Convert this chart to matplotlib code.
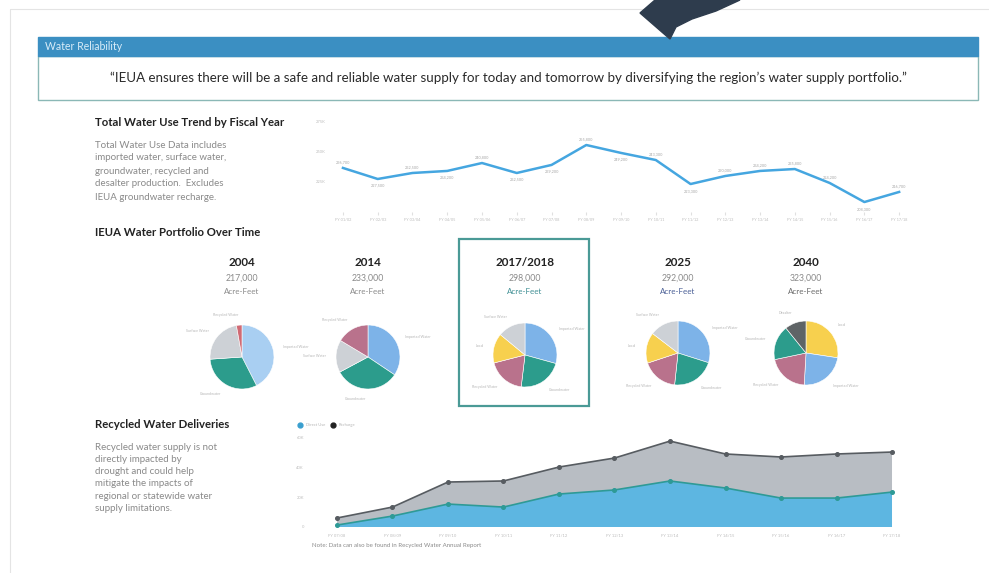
import numpy as np
import matplotlib.pyplot as plt
from matplotlib.patches import Rectangle, Polygon
from matplotlib.lines import Line2D

plt.rcParams['font.family'] = ['Lato', 'DejaVu Sans']

# total water use by fiscal year (acre-feet)
fiscal_years = ["FY 01/02", "FY 02/03", "FY 03/04", "FY 04/05", "FY 05/06", "FY 06/07",
                "FY 07/08", "FY 08/09", "FY 09/10", "FY 10/11", "FY 11/12", "FY 12/13",
                "FY 13/14", "FY 14/15", "FY 15/16", "FY 16/17", "FY 17/18"]
total_use = [236700, 227500, 232500, 234200, 240800, 232500, 239200, 255800, 249200,
             243300, 223300, 230000, 234200, 235800, 224200, 208300, 216700]

# water portfolio pies
portfolio_years = ["2004", "2014", "2017/2018", "2025", "2040"]
portfolio_totals = ["217,000", "233,000", "298,000", "292,000", "323,000"]
sources_2004 = ["Imported Water", "Groundwater", "Surface Water", "Recycled Water"]
shares_2004 = [42.5, 31.4, 23.3, 2.8]
sources_2014 = ["Imported Water", "Groundwater", "Surface Water", "Recycled Water"]
shares_2014 = [34.4, 32.8, 16.4, 16.4]
sources_2018 = ["Imported Water", "Groundwater", "Recycled Water", "Local", "Surface Water"]
shares_2018 = [29.3, 22.6, 19.1, 15.0, 14.0]
sources_2025 = ["Imported Water", "Groundwater", "Recycled Water", "Local", "Surface Water"]
shares_2025 = [29.9, 21.8, 18.2, 15.5, 14.6]
sources_2040 = ["Local", "Imported Water", "Recycled Water", "Groundwater", "Desalter"]
shares_2040 = [27.4, 23.5, 20.8, 17.5, 10.8]

# recycled water deliveries (acre-feet)
rw_years = ["FY 07/08", "FY 08/09", "FY 09/10", "FY 10/11", "FY 11/12", "FY 12/13",
            "FY 13/14", "FY 14/15", "FY 15/16", "FY 16/17", "FY 17/18"]
direct_use = [1300, 7300, 15300, 13300, 22000, 24700, 30700, 26000, 19300, 19300, 23300]
recharge = [4700, 6000, 14700, 17400, 18000, 21300, 26600, 22700, 27400, 29400, 26700]

W, H = 989, 573
fig = plt.figure(figsize=(W / 100, H / 100), dpi=100)


def px_axes(x0, y0, x1, y1):
    return fig.add_axes([x0 / W, 1 - y1 / H, (x1 - x0) / W, (y1 - y0) / H])


# page layer in pixel units
bg = fig.add_axes([0, 0, 1, 1])
bg.set_xlim(0, W)
bg.set_ylim(H, 0)
bg.axis('off')
bg.plot([10, 10, 989], [573, 9, 9], color='#e4e4e4', lw=0.8)
bg.add_patch(Polygon([(640, 13), (655, 0), (740, 0), (716, 11), (692, 19), (676, 27),
                      (670, 39), (663, 33)], closed=True, color='#2e3c4d', zorder=3))
bg.add_patch(Rectangle((38, 37), 940, 19, color='#3b8fc2', zorder=2))
bg.add_patch(Rectangle((38, 56), 940, 44, facecolor='white', edgecolor='#8bb8b6', lw=1))
bg.text(45, 47, "Water Reliability", color='#d8ecf8', fontsize=7.6, va='center')
bg.text(508, 78, "\u201cIEUA ensures there will be a safe and reliable water supply for today and "
        "tomorrow by diversifying the region\u2019s water supply portfolio.\u201d",
        fontsize=9.6, color='#2a2a2a', ha='center', va='center')

title_kw = dict(fontsize=8.2, fontweight='bold', color='#222222', va='center')
desc_kw = dict(fontsize=7.0, color='#8a8a8a', va='center')

bg.text(95, 123, "Total Water Use Trend by Fiscal Year", **title_kw)
desc1 = ["Total Water Use Data includes", "imported water, surface water,",
         "groundwater, recycled and", "desalter production.  Excludes",
         "IEUA groundwater recharge."]
for i, line in enumerate(desc1):
    bg.text(95, 145 + i * 13, line, **desc_kw)

bg.text(95, 233, "IEUA Water Portfolio Over Time", **title_kw)

bg.text(95, 424, "Recycled Water Deliveries", **title_kw)
desc2 = ["Recycled water supply is not", "directly impacted by",
         "drought and could help", "mitigate the impacts of",
         "regional or statewide water", "supply limitations."]
for i, line in enumerate(desc2):
    bg.text(95, 447 + i * 12.3, line, **desc_kw)

bg.text(312, 545, "Note: Data can also be found in Recycled Water Annual Report",
        fontsize=4.4, color='#8a8a8a', va='center')

# total water use line
ax1 = px_axes(328, 118, 912, 212)
ax1.set_facecolor('none')
xi = np.arange(len(total_use))
ax1.plot(xi, total_use, color='#45a6e0', lw=1.8)
ax1.set_xlim(-0.43, 16.37)
ax1.set_ylim(200000, 278300)
ax1.set_yticks([225000, 250000, 275000])
ax1.set_yticklabels(["225K", "250K", "275K"])
ax1.set_xticks(xi)
ax1.set_xticklabels(fiscal_years)
ax1.tick_params(axis='y', length=0, labelsize=3, labelcolor='#bdbdbd', pad=2)
ax1.tick_params(axis='x', length=2, color='#e0e0e0', labelsize=2.8, labelcolor='#bdbdbd', pad=2)
for s in ax1.spines.values():
    s.set_visible(False)
for i, v in enumerate(total_use):
    nb = [total_use[j] for j in (i - 1, i + 1) if 0 <= j < len(total_use)]
    up = v >= np.mean(nb)
    ax1.annotate(f"{v:,}", (i, v), xytext=(0, 4 if up else -5), textcoords='offset points',
                 ha='center', va='center', fontsize=2.8, color='#a8a8a8')

# portfolio pies
blue, teal, mauve, yellow = '#7db3e8', '#2c9c8c', '#b9728c', '#f7d04e'
lgray, dgray, pale, red = '#cdd1d6', '#5f6466', '#a9cff2', '#d06a74'
pies = [(sources_2004, shares_2004, [pale, teal, lgray, red]),
        (sources_2014, shares_2014, [blue, teal, lgray, mauve]),
        (sources_2018, shares_2018, [blue, teal, mauve, yellow, lgray]),
        (sources_2025, shares_2025, [blue, teal, mauve, yellow, lgray]),
        (sources_2040, shares_2040, [yellow, blue, mauve, teal, dgray])]
centers = [(242, 357), (368, 357), (525, 355), (678, 353), (806, 353)]
acre_colors = ['#8a8a8a', '#8a8a8a', '#3f8f94', '#4a5f96', '#6a6a6a']
R = 32
for (names, shares, cols), (cx, cy), yr, tot, ac in zip(pies, centers, portfolio_years,
                                                        portfolio_totals, acre_colors):
    pa = px_axes(cx - 1.5 * R, cy - 1.5 * R, cx + 1.5 * R, cy + 1.5 * R)
    pa.set_facecolor('none')
    pa.pie(shares, colors=cols, startangle=90, counterclock=False, labels=names,
           labeldistance=1.32, textprops=dict(fontsize=2.6, color='#b5b5b5'),
           wedgeprops=dict(linewidth=0.4, edgecolor='white'))
    pa.set_xlim(-1.5, 1.5)
    pa.set_ylim(-1.5, 1.5)
    pa.set_aspect('equal')
    bg.text(cx, 263, yr, fontsize=8.4, fontweight='bold', color='#222222', ha='center', va='center')
    bg.text(cx, 278, tot, fontsize=6.3, color='#8a8a8a', ha='center', va='center')
    bg.text(cx, 292, "Acre-Feet", fontsize=5.8, color=ac, ha='center', va='center')

bg.add_patch(Rectangle((459, 239), 130, 167, fill=False, edgecolor='#4a9a96', lw=1.6))

# recycled water stacked area
ax2 = px_axes(315, 430, 905, 527)
ax2.set_facecolor('none')
xr = np.arange(len(rw_years))
total_rw = np.array(direct_use) + np.array(recharge)
ax2.stackplot(xr, direct_use, recharge, colors=['#5db6e1', '#b8bdc3'])
ax2.plot(xr, direct_use, color='#2e9a96', lw=1.2, marker='o', ms=2.6)
ax2.plot(xr, total_rw, color='#575c61', lw=1.2, marker='o', ms=2.6)
ax2.set_xlim(-0.396, 10.234)
ax2.set_ylim(0, 64700)
ax2.set_yticks([0, 20000, 40000, 60000])
ax2.set_yticklabels(["0", "20K", "40K", "60K"])
ax2.set_xticks(xr)
ax2.set_xticklabels(rw_years)
ax2.tick_params(axis='y', length=0, labelsize=3, labelcolor='#bdbdbd', pad=8)
ax2.tick_params(axis='x', length=0, labelsize=3, labelcolor='#bdbdbd', pad=5)
for s in ax2.spines.values():
    s.set_visible(False)
handles = [Line2D([], [], ls='none', marker='o', ms=3.5, color='#3a9fcf'),
           Line2D([], [], ls='none', marker='o', ms=3.5, color='#222222')]
ax2.legend(handles, ["Direct Use", "Recharge"], loc='center left', bbox_to_anchor=(-0.035, 1.05),
           ncol=2, fontsize=3, frameon=False, handletextpad=0.3, columnspacing=1.0,
           labelcolor='#b5b5b5', borderaxespad=0)

fig.savefig('out.png', dpi=100)
